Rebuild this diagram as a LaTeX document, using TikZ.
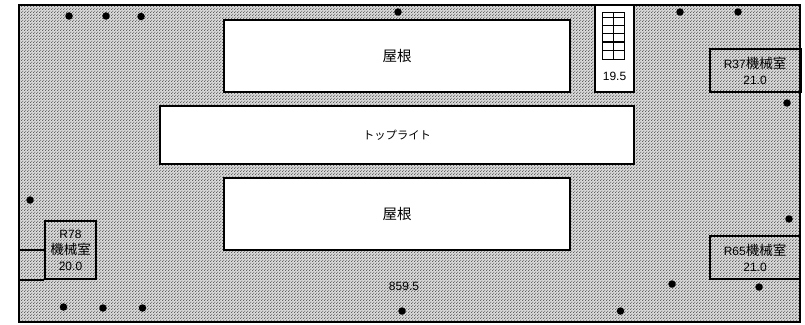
\documentclass[tikz,border=0pt]{standalone}
\usepackage{fontspec}
\setmainfont{Liberation Sans}
\newfontfamily\jpfont{Noto Sans CJK JP}
\usetikzlibrary{positioning,patterns}
\definecolor{hatchdark}{gray}{0.38}
\definecolor{hatchbg}{gray}{0.86}
\pgfdeclarepatternformonly{roofcheck}{\pgfqpoint{0pt}{0pt}}{\pgfqpoint{3pt}{3pt}}{\pgfqpoint{3pt}{3pt}}{%
  \pgfpathrectangle{\pgfqpoint{0pt}{0pt}}{\pgfqpoint{1pt}{1pt}}%
  \pgfpathrectangle{\pgfqpoint{1pt}{1pt}}{\pgfqpoint{1pt}{1pt}}%
  \pgfpathrectangle{\pgfqpoint{2pt}{2pt}}{\pgfqpoint{1pt}{1pt}}%
  \pgfusepath{fill}%
}
\tikzset{
  x=1pt,y=-1pt,
  wall/.style={draw=black,line width=2pt},
  whitebox/.style={wall,fill=white,inner sep=0pt,align=center,font=\fontsize{12}{14.5}\selectfont},
  clearbox/.style={wall,inner sep=0pt,align=center,font=\fontsize{12}{16}\selectfont,text=black},
  label/.style={inner sep=0pt,font=\fontsize{12}{14}\selectfont},
  pin/.style={circle,fill=black,inner sep=0pt,minimum size=7.5pt},
  gridline/.style={draw=black,line width=0.8pt},
  heavygrid/.style={draw=black,line width=1.4pt},
}
\newcommand{\jpbig}[1]{{\jpfont\fontsize{13.5}{16}\selectfont #1}}
\begin{document}
\begin{tikzpicture}
\useasboundingbox (0,0) rectangle (805,324);
% hatched roof
\fill[hatchbg] (19,5) rectangle (800,322);
\fill[pattern=roofcheck,pattern color=hatchdark] (19,5) rectangle (800,322);
\node[wall,minimum width=781pt,minimum height=317pt,inner sep=0pt] (outer) at (409.5,163.5) {};
% white areas
\node[whitebox,minimum width=346pt,minimum height=72pt] (roofA) at (397,56) {{\jpfont\fontsize{14.5}{16}\selectfont 屋根}};
\node[whitebox,minimum width=474pt,minimum height=58pt] (light) at (397,135) {{\jpfont\fontsize{11.3}{14}\selectfont トップライト}};
\node[whitebox,minimum width=346pt,minimum height=72pt] (roofB) at (397,214) {{\jpfont\fontsize{14.5}{16}\selectfont 屋根}};
\node[whitebox,minimum width=39pt,minimum height=87pt] (stair) at (614.5,48.5) {};
\node[label] (h195) at (614.5,76) {19.5};
% stair grid
\coordinate (g1) at (602,12.5);
\coordinate (g2) at (624.5,59);
\coordinate (gt) at (613.7,12.5);
\coordinate (gb) at (613.7,59);
\draw[gridline] (g1) rectangle (g2);
\draw[gridline] (gt) -- (gb);
\foreach \y/\s in {17/gridline,25/gridline,33.5/gridline,42/heavygrid,50.5/gridline}{
  \draw[\s] (602,\y) -- (624.5,\y);
}
% machine rooms
\node[clearbox,minimum width=91pt,minimum height=43pt] (r37) at (755,70.5) {R37\jpbig{機械室}\\21.0};
\node[clearbox,minimum width=90pt,minimum height=43pt] (r65) at (755,257.5) {R65\jpbig{機械室}\\21.0};
\node[clearbox,minimum width=51pt,minimum height=58pt] (r78) at (70.5,250) {R78\\\jpbig{機械室}\\20.0};
\draw[wall] (r78.west) -- (outer.west |- r78.west);
\draw[wall] (r78.south west) -- (outer.west |- r78.south west);
\node[label] (h859) at (404,286) {859.5};
% pins
\node[pin] (p1) at (69,16) {};
\node[pin] (p2) at (106,16) {};
\node[pin] (p3) at (141,16.5) {};
\node[pin] (p4) at (398,12) {};
\node[pin] (p5) at (680,12) {};
\node[pin] (p6) at (738,12) {};
\node[pin] (p7) at (787,103) {};
\node[pin] (p8) at (789,219) {};
\node[pin] (p9) at (30,200) {};
\node[pin] (p10) at (63.5,307) {};
\node[pin] (p11) at (103,308) {};
\node[pin] (p12) at (142.5,308) {};
\node[pin] (p13) at (402,311) {};
\node[pin] (p14) at (620.5,311) {};
\node[pin] (p15) at (672,284) {};
\node[pin] (p16) at (759,287) {};
\end{tikzpicture}
\end{document}
